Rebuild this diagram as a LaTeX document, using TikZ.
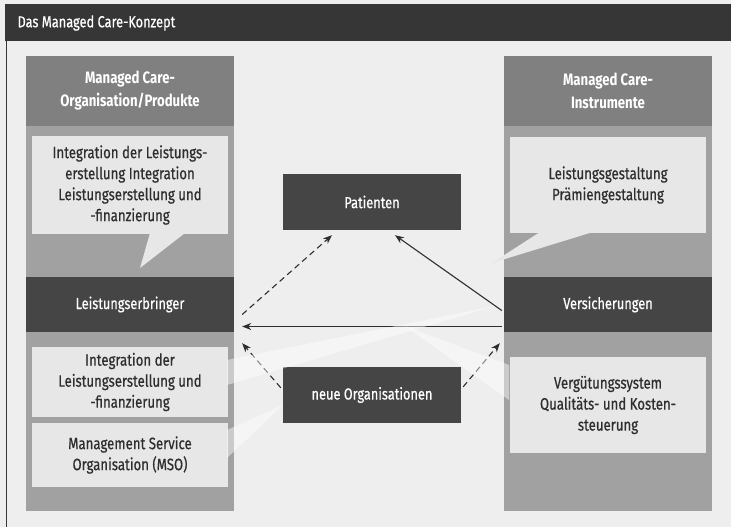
\documentclass[tikz,border=0pt]{standalone}
\usepackage{fontspec}
\setmainfont{Fira Sans}[FakeStretch=0.8]
\newfontfamily\medfont{Fira Sans}[FakeStretch=0.8, FakeBold=0.6]
\usetikzlibrary{arrows.meta}
\definecolor{bggray}{gray}{0.935}
\definecolor{colgray}{gray}{0.63}
\definecolor{headgray}{gray}{0.50}
\definecolor{boxgray}{gray}{0.905}
\definecolor{darkgray}{gray}{0.27}
\definecolor{titlegray}{gray}{0.21}
\definecolor{txtgray}{gray}{0.18}
\tikzset{
  headbox/.style={fill=headgray, text=white, font=\bfseries\fontsize{16.5}{23}\selectfont,
    minimum width=208pt, minimum height=70pt, align=center, inner sep=0pt},
  lightbox/.style={fill=boxgray, text=txtgray, font=\medfont\fontsize{16.5}{21}\selectfont,
    minimum width=196pt, align=center, inner sep=0pt},
  darkbox/.style={fill=darkgray, text=white, font=\medfont\fontsize{16}{20}\selectfont,
    minimum width=208pt, minimum height=55pt, inner sep=0pt},
  midbox/.style={darkbox, minimum width=178pt, minimum height=56pt},
  solidarrow/.style={-{Stealth[length=9pt,width=7pt]}, line width=1.1pt, draw=txtgray},
  dasharrow/.style={solidarrow, dash pattern=on 6pt off 4pt},
  band/.style={fill=white, opacity=.45}
}
\begin{document}
\begin{tikzpicture}[x=1pt,y=-1pt]
\useasboundingbox (0,0) rectangle (731,527);
\fill[bggray] (0,0) rectangle (731,527);
% title bar and frame
\fill[titlegray] (5,4) rectangle (731,41);
\draw[titlegray, line width=1pt] (6,41) -- (6,527);
\node[anchor=west, text=white, font=\medfont\fontsize{16}{18}\selectfont] (title) at (14,23) {Das Managed Care-Konzept};
% the two columns
\fill[colgray] (26,57) rectangle (234,511);
\fill[colgray] (504,57) rectangle (712,511);
% left column
\node[headbox] (lhead) at (130,91) {Managed Care-\\Organisation/Produkte};
\node[lightbox, minimum height=98pt] (lint) at (130,185)
  {Integration der Leistungs-\\erstellung Integration\\Leistungserstellung und\\-finanzierung};
\fill[boxgray] (150,233) -- (185,233) -- (140,268) -- cycle;
\node[darkbox] (leist) at (130,304.5) {Leistungserbringer};
\node[lightbox, minimum height=70pt] (lfin) at (130,382)
  {Integration der\\Leistungserstellung und\\-finanzierung};
\node[lightbox, minimum height=64pt] (mso) at (130,455) {Management Service\\Organisation (MSO)};
% right column
\node[headbox] (rhead) at (608,91) {Managed Care-\\Instrumente};
\node[lightbox, minimum height=96pt] (gest) at (608,185) {Leistungsgestaltung\\Prämiengestaltung};
\fill[boxgray] (540,232) -- (593,232) -- (492,263) -- cycle;
\node[darkbox] (vers) at (608,304.5) {Versicherungen};
\node[lightbox, minimum height=96pt] (verg) at (608,405)
  {Vergütungssystem\\Qualitäts- und Kosten-\\steuerung};
% middle
\node[midbox] (pat) at (372,202) {Patienten};
\node[midbox] (norg) at (372,395) {neue Organisationen};
% connectors
\draw[dasharrow] ([xshift=8pt,yshift=-10pt]leist.east) -- ([xshift=-40pt,yshift=-5pt]pat.south);
\draw[solidarrow] ([xshift=-2pt,yshift=-6pt]vers.west) -- ([xshift=23pt,yshift=-5pt]pat.south);
\draw[solidarrow] ([xshift=-2pt,yshift=-22pt]vers.west) -- ([xshift=8pt,yshift=-22pt]leist.east);
\draw[dasharrow] ([xshift=-2pt,yshift=-21pt]norg.north west) -- ([xshift=8pt,yshift=-11pt]leist.south east);
\draw[dasharrow] ([xshift=2pt,yshift=-20pt]norg.north east) -- ([xshift=-4pt,yshift=-11pt]vers.south west);
% light bands
\fill[band] (227,360) -- (227,385) -- (495,306) -- cycle;
\fill[band] (509,365) -- (509,400) -- (405,326) -- cycle;
\fill[band] (227,430) -- (227,458) -- (283,405) -- cycle;
\end{tikzpicture}
\end{document}
